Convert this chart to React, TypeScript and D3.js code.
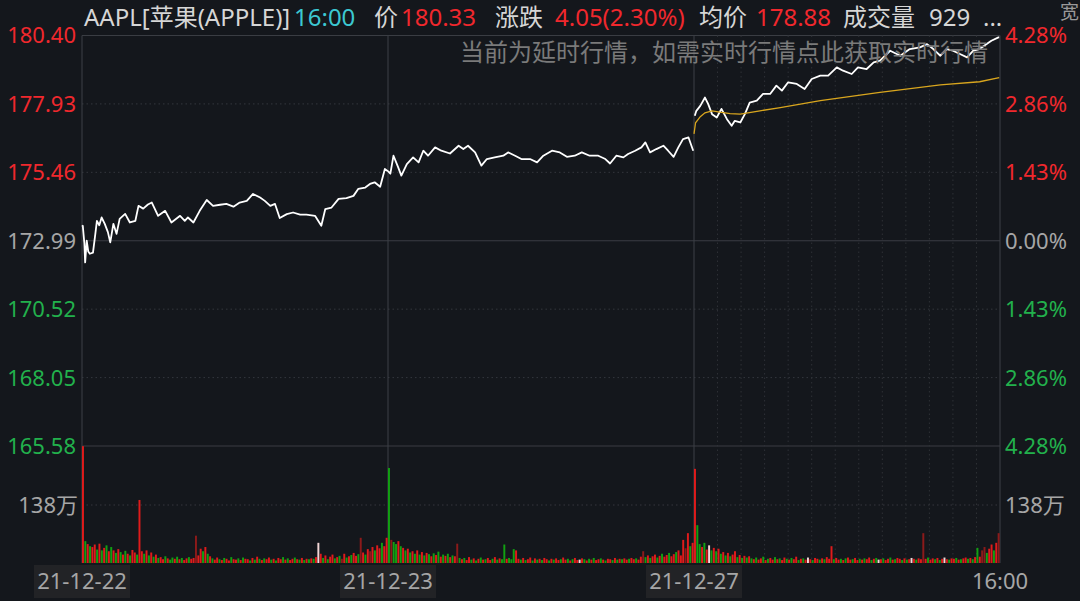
import React from "react";
import * as d3 from "d3";

// ---------- data ----------
const PRICE_TICKS = [180.4, 177.93, 175.46, 172.99, 170.52, 168.05, 165.58];
const PCT_TICKS = ["4.28%", "2.86%", "1.43%", "0.00%", "1.43%", "2.86%", "4.28%"];
const VOL_TICK = 138; // 万
const DATE_LABELS = ["21-12-22", "21-12-23", "21-12-27"];
const END_LABEL = "16:00";
const MINUTES_PER_DAY = 390;
const DAYS = 3;

// [minute index from start of 3-day window, price]
const PRICE_DAY1: [number, number][] = [
  [0, 173.5], [1, 173.53], [3, 172.9], [4, 172.21], [6, 172.99], [8, 172.6], [10, 172.52], [14, 172.56], [17, 173.24], [19, 173.71],
  [22, 173.55], [25, 173.83], [29, 173.6], [33, 173.3], [36, 172.93], [40, 173.6], [44, 173.24], [48, 173.78], [55, 173.96],
  [61, 173.65], [68, 173.71], [72, 174.25], [78, 174.15], [84, 174.3], [89, 174.37], [97, 173.89], [106, 174.07],
  [114, 173.65], [125, 173.89], [131, 173.71], [135, 173.83], [142, 173.65], [150, 174.07], [159, 174.46],
  [167, 174.25], [176, 174.29], [184, 174.32], [193, 174.22], [201, 174.37], [210, 174.43], [218, 174.68],
  [227, 174.55], [233, 174.43], [240, 174.25], [246, 174.32], [252, 173.81], [261, 173.95], [269, 174.01],
  [278, 173.93], [286, 173.93], [297, 173.89], [305, 173.53], [310, 174.13], [318, 174.19], [327, 174.5],
  [337, 174.53], [346, 174.61], [352, 174.86], [361, 174.91], [367, 175.04], [373, 175.1], [380, 174.94],
  [386, 175.58], [389, 175.52],
];
const PRICE_DAY2: [number, number][] = [
  [390, 175.5], [393, 175.41], [397, 176.06], [403, 175.64], [407, 175.34], [414, 175.76], [422, 176.0],
  [429, 175.82], [435, 176.24], [441, 176.06], [450, 176.36], [458, 176.24], [469, 176.14], [480, 176.42],
  [486, 176.3], [492, 176.42], [501, 176.18], [509, 175.7], [516, 175.94], [526, 176.0], [537, 176.06],
  [543, 176.18], [552, 176.06], [560, 175.94], [571, 175.94], [580, 175.82], [588, 176.06], [599, 176.24],
  [609, 176.18], [618, 176.02], [628, 176.06], [637, 176.18], [647, 176.06], [658, 176.06], [667, 175.94],
  [673, 175.78], [681, 176.06], [690, 176.0], [696, 176.12], [705, 176.24], [713, 176.36], [718, 176.54],
  [724, 176.18], [732, 176.3], [741, 176.42], [747, 176.24], [754, 176.02], [760, 176.36], [766, 176.66],
  [773, 176.72], [779, 176.24],
];
const PRICE_DAY3: [number, number][] = [
  [781, 177.5], [783, 177.68], [788, 177.86], [794, 178.16], [798, 177.93], [803, 177.56], [809, 177.44],
  [815, 177.75], [822, 177.38], [828, 177.14], [832, 177.32], [839, 177.26], [845, 177.57], [851, 177.98],
  [860, 178.05], [868, 178.29], [877, 178.29], [885, 178.59], [892, 178.41], [900, 178.71], [911, 178.65],
  [921, 178.47], [930, 178.83], [941, 178.95], [951, 178.95], [962, 179.25], [970, 179.13], [981, 179.01],
  [989, 179.25], [1000, 179.19], [1009, 179.43], [1017, 179.49], [1030, 179.85], [1043, 179.67],
  [1055, 179.91], [1068, 179.97], [1077, 180.09], [1085, 179.91], [1094, 179.67], [1102, 179.91],
  [1110, 179.85], [1119, 179.73], [1128, 179.61], [1136, 179.85], [1144, 179.91], [1153, 180.09],
  [1159, 180.21], [1168, 180.33], [1169, 180.33],
];
const AVG_DAY3: [number, number][] = [
  [780, 176.85], [782, 177.25], [788, 177.47], [794, 177.61], [803, 177.68], [813, 177.63], [826, 177.58],
  [839, 177.56], [864, 177.68], [890, 177.8], [941, 178.05], [1017, 178.35], [1094, 178.62], [1144, 178.73],
  [1169, 178.88],
];

// volume (万) per 3-minute slot, per day
const VOL_DAY1 = [
  278, 52, 45, 40, 38, 44, 32, 46, 30, 36, 42, 28, 38, 30, 24, 33, 26, 20, 29, 22,
  18, 31, 25, 20, 150, 28, 22, 30, 18, 25, 15, 20, 12, 14, 9, 16, 11, 8, 13, 10,
  15, 9, 12, 7, 11, 14, 10, 12, 65, 18, 34, 28, 38, 22, 16,
  11, 8, 13, 9, 7, 12, 10, 6, 14, 9, 8, 11, 7, 13, 10, 9, 6, 12, 8, 15,
  10, 7, 11, 9, 13, 8, 10, 6, 12, 9, 14, 8, 11, 7, 10, 13, 9, 8, 12, 7, 10, 9, 11,
  10, 14, 48, 22, 12, 18, 9, 15, 20, 11, 14, 17, 10, 22, 13, 16, 19, 24, 17, 21, 60,
  25, 20, 33, 28, 38, 30, 42, 35, 48, 40, 60,
];
const VOL_DAY2 = [
  226, 55, 50, 45, 52, 40, 36, 30, 34, 25, 28, 22, 30, 20, 26, 18, 24, 21, 16, 23,
  19, 27, 15, 20, 17, 22, 14, 18, 16, 46, 12,
  9, 12, 7, 14, 8, 11, 6, 10, 13, 8, 9, 12, 7, 10, 14, 8, 11, 9,
  44, 10, 12, 9, 33, 30,
  10, 8, 12, 7, 9, 13, 6, 11, 8, 10, 7, 12, 9, 6, 10, 8, 11, 7, 9, 13,
  8, 10, 6, 9, 12, 7, 8, 11, 9, 6, 10, 8, 12, 7, 9, 11, 8, 6, 10, 9, 7, 12, 8, 10, 9, 11,
  8, 10, 12, 9, 11, 8, 15, 28, 14, 18, 12, 16, 20, 13, 17, 22, 15, 19, 24, 16,
  21, 26, 30, 18, 55, 35, 71, 40, 48,
];
const VOL_DAY3 = [
  224, 90, 45, 38, 48, 32, 42, 30, 36, 28, 34, 22, 26, 18, 24, 16, 20, 28, 14, 19,
  12, 17, 13, 16, 11,
  9, 13, 8, 11, 15, 7, 10, 12, 8, 14, 9, 11, 7, 13, 10, 8, 12, 9, 15, 7, 10, 11, 8, 13, 9, 7, 12, 10, 8, 11, 9, 14, 10,
  40,
  9, 12, 8, 10, 7, 11, 13, 8, 9, 12, 7, 10, 8, 11, 9, 13, 7, 10, 12, 8, 9, 11, 7, 10, 13, 8, 9, 12, 10, 7, 11, 8, 9, 12, 10, 8, 11, 9,
  71,
  10, 13, 8, 11, 9, 12, 7, 10, 13, 9, 8, 11, 10, 12, 8, 9, 11, 13, 10, 12, 9, 14,
  36, 15, 30, 38, 24, 34, 44, 30, 48, 71,
];
// r = up, g = down, d = dark red, w = flat
const VOL_DIR_DAY1 =
  "rgrgrrgrgr" + "grgrgrgrgr" + "grrgrrgrgr" + "grgrrgrggr" + "grgrrgrrdr" + "rgrgr" +
  "grrgrgrrgr" + "rgrgrrgrgr" + "grgrrgrgrr" + "grgrrgrgrg" + "rgr" + "grwr" + "grgrrgrgdrgr" + "grrgd" + "rgrdrgrrgrr";
const VOL_DIR_DAY2 =
  "gdggrgrgrg" + "rgrgrgrgrg" + "rgrgrgrgrd" + "g" + "rgrrgrgrgrgrrgrgrg" + "grgggr" +
  "rgrgrrgrgr" + "grrgrgrrgr" + "rgrgrrwrgr" + "grgrrgrgrr" + "grgrgr" + "rgrrgr" + "rd" + "grgrrgrgrrgr" + "rgrrrdrgr";
const VOL_DIR_DAY3 =
  "rggrgrwgrg" + "rgrgrgrrgr" + "grgrg" + "rgrrgrgrrgrgrrgrgrrgrgrwrgrrgrgrr" + "r" +
  "grrgrgrrgrrgrgrrgrgwrgrrgrgrrgrgrwrgrr" + "d" + "rgrrgrgrwrgrrgrgrrgrgr" + "grddgrrgrd";

const HEADER = [
  { t: "AAPL[苹果(APPLE)]", x: 84, c: "#d6d6d6" },
  { t: "16:00", x: 294, c: "#3cc8d2" },
  { t: "价", x: 374, c: "#d6d6d6" },
  { t: "180.33", x: 401, c: "#f0282d" },
  { t: "涨跌", x: 495, c: "#d6d6d6" },
  { t: "4.05(2.30%)", x: 555, c: "#f0282d" },
  { t: "均价", x: 699, c: "#d6d6d6" },
  { t: "178.88", x: 756, c: "#f0282d" },
  { t: "成交量", x: 843, c: "#d6d6d6" },
  { t: "929", x: 929, c: "#d6d6d6" },
  { t: "...", x: 983, c: "#d6d6d6" },
];
const NOTICE = "当前为延时行情，如需实时行情点此获取实时行情";

// ---------- style ----------
const BG = "#14171c";
const RED = "#f0282d";
const GREEN = "#22b14c";
const GREY = "#a6a6a6";
const FONT = "'Noto Sans', 'Noto Sans CJK SC', sans-serif";
const L = 82, R = 1000, TOP = 35.5, PBOT = 446, VBOT = 563;

const barColor: Record<string, string> = { r: "#e01b1b", g: "#12a012", d: "#8c1a1a", w: "#f2d6d6" };

export default function App() {
  const x = d3.scaleLinear().domain([0, MINUTES_PER_DAY * DAYS]).range([L, R]);
  const y = d3.scaleLinear().domain([PRICE_TICKS[6], PRICE_TICKS[0]]).range([PBOT, TOP]);
  const yv = d3.scaleLinear().domain([0, VOL_TICK]).range([VBOT, 505]);
  const line = d3.line<[number, number]>().x((d) => x(d[0])).y((d) => y(d[1]));

  const vols = [VOL_DAY1, VOL_DAY2, VOL_DAY3];
  const dirs = [VOL_DIR_DAY1, VOL_DIR_DAY2, VOL_DIR_DAY3];
  const bars: JSX.Element[] = [];
  vols.forEach((arr, d) => {
    const step = MINUTES_PER_DAY / arr.length;
    const w = x(step) - x(0);
    arr.forEach((v, i) => {
      const m = d * MINUTES_PER_DAY + i * step;
      const c = barColor[dirs[d][i] || "r"];
      bars.push(
        <rect key={`b${d}-${i}`} x={x(m)} y={yv(v)} width={Math.max(0.8, w - 0.4)} height={VBOT - yv(v)} fill={c} />
      );
    });
  });

  const halfHours = d3.range(1, 13).map((k) => 2 * MINUTES_PER_DAY + k * 30);
  const tickColor = (i: number) => (i < 3 ? RED : i === 3 ? GREY : GREEN);

  return (
    <svg width={1080} height={601} style={{ position: "fixed", left: 0, top: 0, background: BG }} fontFamily={FONT}>
      <rect x={0} y={0} width={1080} height={601} fill={BG} />
      {/* horizontal grid */}
      {PRICE_TICKS.map((p, i) => {
        const solid = i === 0 || i === 3 || i === 6;
        return (
          <line key={`h${i}`} x1={L} x2={R} y1={y(p)} y2={y(p)} stroke={solid ? "#3a3d43" : "#34373d"}
            strokeWidth={1} strokeDasharray={solid ? undefined : "1.5,3"} />
        );
      })}
      <line x1={L} x2={R} y1={yv(VOL_TICK)} y2={yv(VOL_TICK)} stroke="#34373d" strokeDasharray="1.5,3" />
      {/* vertical grid */}
      {halfHours.map((m) => (
        <line key={`v${m}`} x1={x(m)} x2={x(m)} y1={TOP} y2={VBOT} stroke="#2e3136" strokeDasharray="1.5,3" />
      ))}
      {[0, 1, 2, 3].map((d) => (
        <line key={`dv${d}`} x1={x(d * MINUTES_PER_DAY)} x2={x(d * MINUTES_PER_DAY)} y1={TOP} y2={VBOT}
          stroke="#3d4046" strokeWidth={1} />
      ))}
      {/* volume */}
      {bars}
      {/* price */}
      {[PRICE_DAY1.concat(PRICE_DAY2.slice(0, 1)), PRICE_DAY2, PRICE_DAY3].map((s, i) => (
        <path key={`p${i}`} d={line(s) || ""} fill="none" stroke="#ffffff" strokeWidth={1.8} strokeLinejoin="round" />
      ))}
      <path d={line(AVG_DAY3) || ""} fill="none" stroke="#d9a61e" strokeWidth={1.3} />
      {/* notice */}
      <text x={460} y={61} fontSize={24} fill="#7a7a7a">{NOTICE}</text>
      {/* left axis */}
      {PRICE_TICKS.map((p, i) => (
        <text key={`lt${i}`} x={76} y={y(p)} dy="0.36em" textAnchor="end" fontSize={22} fill={tickColor(i)}>
          {p.toFixed(2)}
        </text>
      ))}
      <text x={78} y={yv(VOL_TICK)} dy="0.36em" textAnchor="end" fontSize={22} fill={GREY}>{VOL_TICK}万</text>
      {/* right axis */}
      {PCT_TICKS.map((t, i) => (
        <text key={`rt${i}`} x={1005} y={y(PRICE_TICKS[i])} dy="0.36em" fontSize={22} fill={tickColor(i)}>{t}</text>
      ))}
      <text x={1005} y={yv(VOL_TICK)} dy="0.36em" fontSize={22} fill={GREY}>{VOL_TICK}万</text>
      {/* date labels */}
      {DATE_LABELS.map((t, i) => {
        const cx = x(i * MINUTES_PER_DAY);
        return (
          <g key={`dl${i}`}>
            <rect x={cx - 48} y={565} width={96} height={33} fill="#222326" />
            <text x={cx} y={581} dy="0.36em" textAnchor="middle" fontSize={22} fill={GREY}>{t}</text>
          </g>
        );
      })}
      <text x={x(MINUTES_PER_DAY * DAYS)} y={581} dy="0.36em" textAnchor="middle" fontSize={22} fill={GREY}>{END_LABEL}</text>
      {/* header */}
      {HEADER.map((h, i) => (
        <text key={`hd${i}`} x={h.x} y={26} fontSize={24} fill={h.c}>{h.t}</text>
      ))}
      <text x={1060} y={19} fontSize={19} fill="#9a9a9a">宽</text>
    </svg>
  );
}
